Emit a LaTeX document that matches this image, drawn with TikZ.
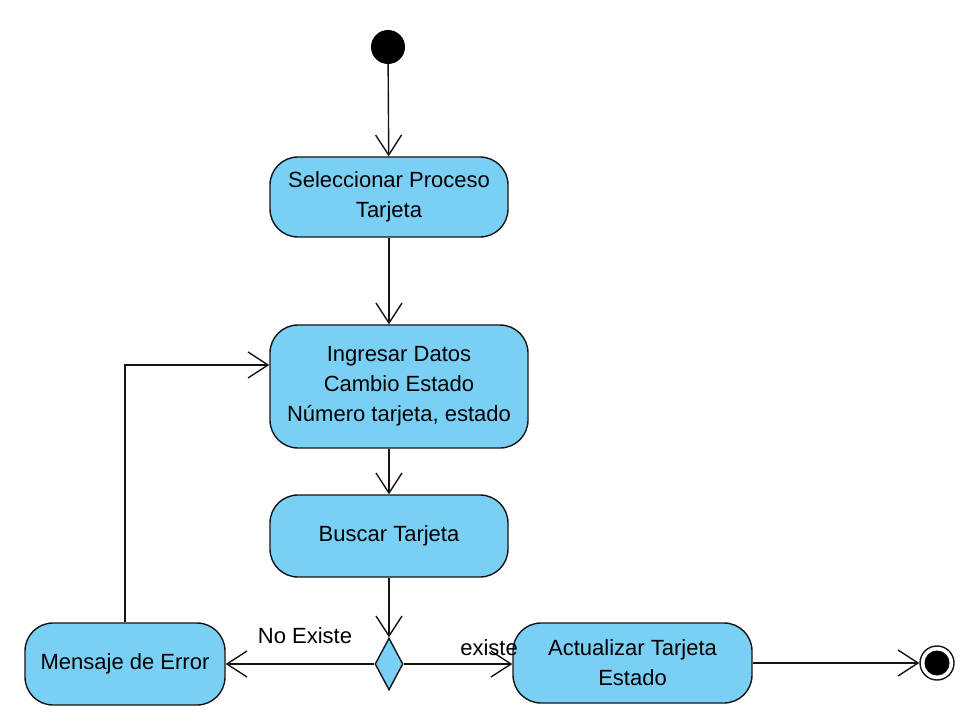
\documentclass[tikz,border=0pt]{standalone}
\usepackage{fontspec}
\setmainfont{Liberation Sans}
\usetikzlibrary{arrows.meta,shapes.geometric}
\definecolor{actfill}{RGB}{122,207,245}
\definecolor{lineC}{RGB}{20,20,20}
\tikzset{
  act/.style={draw=lineC, line width=1.4pt, fill=actfill, rounded corners=28pt,
    align=center, font=\fontsize{22}{30}\selectfont, inner sep=0pt},
  arr/.style={draw=lineC, line width=1.4pt, -{Straight Barb[length=20pt,width=26pt,line width=1.4pt]}},
  lbl/.style={font=\fontsize{22}{30}\selectfont, inner sep=0pt},
  dec/.style={diamond, draw=lineC, line width=1.4pt, fill=actfill, inner sep=0pt,
    minimum width=28pt, minimum height=52pt},
}
\begin{document}
\begin{tikzpicture}[x=1pt,y=-1pt]
\useasboundingbox (0,0) rectangle (980,727);
\node[circle, fill=black, minimum size=34pt, inner sep=0pt] (start) at (388,47) {};
\node[act, minimum width=238pt, minimum height=80pt] (sel) at (389,197) {Seleccionar Proceso\\Tarjeta};
\node[act, minimum width=258pt, minimum height=123pt] (ing) at (399,386.5) {Ingresar Datos\\Cambio Estado\\Número tarjeta, estado};
\node[act, minimum width=238pt, minimum height=82pt] (bus) at (389,536) {Buscar Tarjeta};
\node[dec] (dec) at (389,664) {};
\node[act, minimum width=200pt, minimum height=82pt] (err) at (125,664) {Mensaje de Error};
\node[act, minimum width=239pt, minimum height=80pt] (act) at (632.5,663) {Actualizar Tarjeta\\Estado};
\node[circle, draw=lineC, line width=1.4pt, fill=white, minimum size=34pt, inner sep=0pt] (fin) at (937,663) {};
\node[circle, fill=black, minimum size=25pt, inner sep=0pt] (finin) at (fin) {};
\draw[arr] (start) -- (sel);
\draw[arr] (sel) -- (sel |- ing.north);
\draw[arr] (sel |- ing.south) -- (bus);
\draw[arr] (bus) -- (dec);
\draw[arr] (dec) -- (err);
\draw[arr] (dec) -- (act.west |- dec);
\draw[arr] (act) -- (fin);
\draw[arr] (err.north) |- ([yshift=21.5pt]ing.west);
\node[lbl] (noex) at (305,636) {No Existe};
\node[lbl] (ex) at (489,648) {existe};
\end{tikzpicture}
\end{document}
